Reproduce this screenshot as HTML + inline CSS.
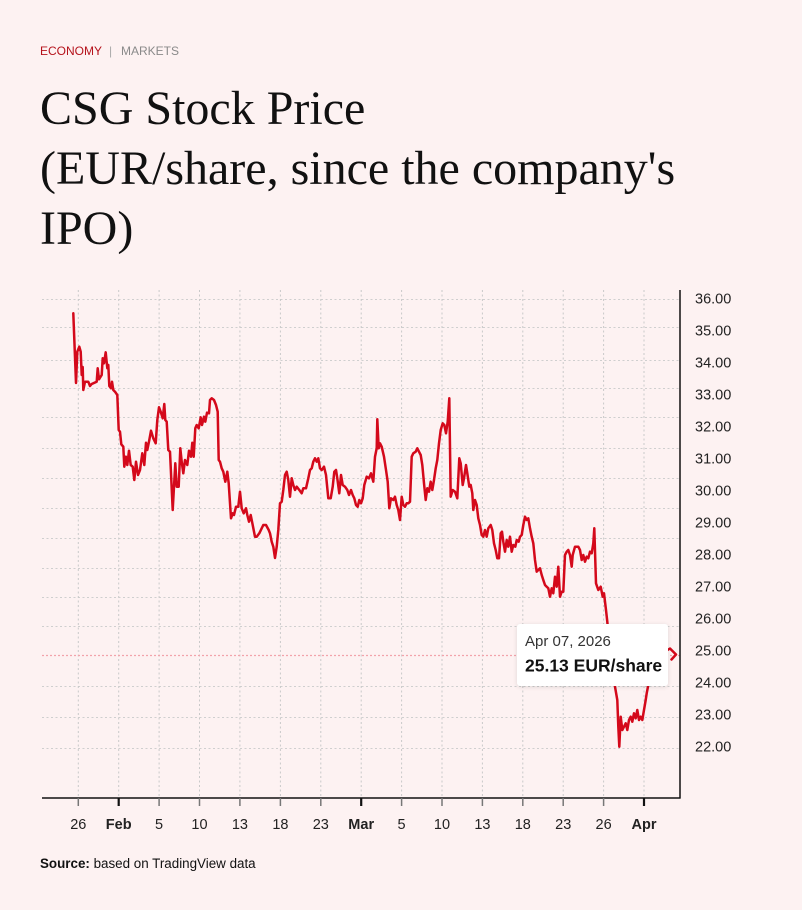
<!DOCTYPE html>
<html>
<head>
<meta charset="utf-8">
<style>
  html, body { margin:0; padding:0; }
  body { width:802px; height:910px; background:#fdf2f2; position:relative; overflow:hidden; font-family:"Liberation Sans", Arial, sans-serif; }
  svg { position:absolute; left:0; top:0; }
  .tip { position:absolute; left:517px; top:624px; width:151px; height:62px; background:#fff; border-radius:3px; box-shadow:0 1px 5px rgba(0,0,0,0.12); }
</style>
</head>
<body>
<svg width="802" height="910" viewBox="0 0 802 910" xmlns="http://www.w3.org/2000/svg">
  <!-- header -->
  <text x="40" y="55" font-family="Liberation Sans, Arial, sans-serif" font-size="12" fill="#b5121b">ECONOMY</text>
  <text x="109" y="55" font-family="Liberation Sans, Arial, sans-serif" font-size="12" fill="#aaa">|</text>
  <text x="121" y="55" font-family="Liberation Sans, Arial, sans-serif" font-size="12" fill="#8a8a8a">MARKETS</text>

  <!-- title -->
  <g font-family="Liberation Serif, 'Times New Roman', serif" font-size="48" fill="#111">
    <text x="40" y="124">CSG Stock Price</text>
    <text x="40" y="184">(EUR/share, since the company's</text>
    <text x="40" y="244">IPO)</text>
  </g>

  <!-- horizontal gridlines -->
  <g stroke="#cfcfcf" stroke-width="1" stroke-dasharray="2,2.5">
    <line x1="42" x2="680" y1="299.5" y2="299.5"/>
    <line x1="42" x2="680" y1="327.5" y2="327.5"/>
    <line x1="42" x2="680" y1="360.5" y2="360.5"/>
    <line x1="42" x2="680" y1="388.5" y2="388.5"/>
    <line x1="42" x2="680" y1="417.5" y2="417.5"/>
    <line x1="42" x2="680" y1="448.5" y2="448.5"/>
    <line x1="42" x2="680" y1="478.5" y2="478.5"/>
    <line x1="42" x2="680" y1="508.5" y2="508.5"/>
    <line x1="42" x2="680" y1="538.5" y2="538.5"/>
    <line x1="42" x2="680" y1="568.5" y2="568.5"/>
    <line x1="42" x2="680" y1="597.5" y2="597.5"/>
    <line x1="42" x2="680" y1="626.5" y2="626.5"/>
    <line x1="42" x2="680" y1="686.5" y2="686.5"/>
    <line x1="42" x2="680" y1="717.5" y2="717.5"/>
    <line x1="42" x2="680" y1="748.5" y2="748.5"/>
  </g>
  <!-- vertical gridlines -->
  <g stroke="#c9c9c9" stroke-width="1" stroke-dasharray="2,2.5">
    <line x1="78.3" x2="78.3" y1="290" y2="798"/>
    <line x1="118.7" x2="118.7" y1="290" y2="798"/>
    <line x1="159.1" x2="159.1" y1="290" y2="798"/>
    <line x1="199.5" x2="199.5" y1="290" y2="798"/>
    <line x1="239.9" x2="239.9" y1="290" y2="798"/>
    <line x1="280.4" x2="280.4" y1="290" y2="798"/>
    <line x1="320.8" x2="320.8" y1="290" y2="798"/>
    <line x1="361.2" x2="361.2" y1="290" y2="798"/>
    <line x1="401.6" x2="401.6" y1="290" y2="798"/>
    <line x1="442.0" x2="442.0" y1="290" y2="798"/>
    <line x1="482.4" x2="482.4" y1="290" y2="798"/>
    <line x1="522.8" x2="522.8" y1="290" y2="798"/>
    <line x1="563.2" x2="563.2" y1="290" y2="798"/>
    <line x1="603.6" x2="603.6" y1="290" y2="798"/>
    <line x1="644.0" x2="644.0" y1="290" y2="798"/>
  </g>

  <!-- crosshair -->
  <line x1="42" x2="680" y1="655.5" y2="655.5" stroke="#f2a3ab" stroke-width="1.2" stroke-dasharray="2,2"/>

  <!-- price line -->
  <polyline fill="none" stroke="#d4091b" stroke-width="2.5" stroke-linejoin="round" stroke-linecap="round" points="
73.3,313.3 76,383 77.3,351.7 79.3,346.7 80.7,351.7 81.7,375 82.7,367 83.3,390 85,381.7 88.3,381.7 90,386 91.7,384 96.7,381.7 97.7,368.3 99,379.3 101.7,375 102.7,358.3 104,363.3 105.7,352.3 107.3,368.3 108.3,365 109.3,386 111,388.3 112,381.7 113.3,390 115,391.7 117.3,395 118.7,430 120,431.7 121.3,444.3 123.3,446.7 124.3,466.7 126,456.7 127.3,465 129,450.7 130.7,465 132.7,466.7 134.3,480 136,461.7 138,475 140,470 142.3,453.3 144.3,465 146,442.7 147.3,450 149.3,440 151,430.7 153.3,438.3 155.7,443.3 157.3,420 159,407.3 160.7,411.7 162.7,418.3 164.3,404 165.3,420 166.7,421.7 168.3,450 170,451.7 172.7,510 175.3,463.3 176.7,486.7 178.7,486.7 180.3,448.3 181.7,461.7 183.3,473.3 185,460 187.3,465 189,450.7 191,456.7 192.3,442.7 193.7,456.7 195.3,428.3 196.7,425 198.7,428.3 200.7,417.3 202,425 204,416.7 205.3,421.7 207,412.7 209,413.3 210,400 211.7,398.3 214,400 216,405 217.7,411.7 218.7,460 220,461.7 221.7,468.3 223.3,471.7 225.3,481.7 227.3,471.7 228.7,483.3 231,518.3 232.7,513.3 234,515 236,506.7 238.3,506.7 240,491.7 241.7,508.3 243.7,513.3 246,508.3 247.3,515 249,521.7 250.7,515 252.7,525 255,536.7 256.7,536.7 259.3,533.3 263.3,525 266,525 268.7,530 270,533.3 271.7,541.7 273.3,546.7 275,558 276.7,546.7 278.3,530 280,503.3 281.7,501.7 283.3,490 285,475 286.7,471.7 288.3,480 290,496.7 291.7,478.3 293.3,485 295,490 296.7,486.7 299.3,490 301.7,493.3 303.3,488.3 306,488.3 308.3,478.3 310,470 311.7,468.3 313.3,461.7 315,458.3 316.7,461.7 318.3,458.3 320,468.3 321.7,470 324,466.7 326,475 328.3,498.3 330.7,498.3 332.7,486.7 334.3,471.7 336,470 337.3,478.3 339.3,493.3 341,475 342.7,485 345,486.7 347.3,490 349,495 351,490 352.7,495 354.3,498.3 356,505 357.7,506.7 359.3,500 361,503.3 362.7,498.3 364.3,485 366.7,476.7 369,478.3 371,473.3 373.3,481.7 375,456.7 376.7,448.3 377.3,419.3 378.7,448.3 380,443.3 381.7,446.7 384,456.7 386,470 387.7,481.7 389.3,508.3 391,498.3 393.3,500 395,496.7 396.7,505 398.3,510 400,520 401.7,496.7 403.3,505 405,506.7 406.7,503.3 408.3,503.3 410,501.7 411.7,456.7 413.3,453.3 415.7,451.7 417.3,448.3 419,451.7 420.7,455 422.3,465 424,483.3 425.7,500 427.3,488.3 429,491.7 430.7,481.7 432.3,490 434,480 435.7,468.3 437.3,460 439,443.3 440.7,430 442.7,423.3 444.3,425 446,433.3 447.7,421.7 449.3,398.3 450.7,496.7 452.7,490 455,491.7 457.3,498.3 459.3,458.3 460.7,463.3 462.7,485 464,478.3 466,465 467.3,473.3 469.3,486.7 470.7,485 472.3,493.3 473.3,510 475,500 476.7,505 478.3,518.3 480,525 481.7,535 483.3,536.7 485,530 486.7,536.7 488.3,528.3 490.7,525 492.3,530 494,543.3 495.7,550 497.3,558.3 499,558.3 500.7,533.3 502,531.7 503.3,541.7 505,551.7 506.7,540 508.3,546.7 510,536.7 511.7,551.7 513.3,545 515.3,546.7 516.7,540 518.7,541.7 520,536.7 521.7,535 523.3,525 525,516.7 526.7,520 528.3,518.3 530,528.3 531.7,536.7 533.3,543.3 535,560 536.7,571.7 538.3,570 540,568.3 541.7,575 543.3,580 545,585 546.7,586.7 548.3,588.3 550,596.7 551.7,588.3 553.3,593.3 555,576.7 556.7,586.7 558.3,566.7 560,596.7 561.7,591.7 563.3,591.7 565,555 566.7,551.7 568.3,550 570,555 571.7,566.7 572.7,555 575,546.7 578.3,546.7 580,550 581.7,560 583.3,555 585,561.7 586.7,556.7 588.3,558.3 590,551.7 591.7,553.3 593.3,543.3 594.3,528.3 596,583.3 598.3,590 600.7,586.7 602.7,596.7 604,593.3 606,610 607.3,621.7 609,640 611,660 613,675 615,686.7 617.3,700 618.3,726.7 619.3,746.7 620.7,716.7 622.3,730 624,726.7 625.7,723.3 627.3,730 629,720 630.7,716.7 632.3,721.7 634,713.3 635.7,718.3 637.3,710 639,720 640.7,716.7 642.3,720 644,710 645.7,700 646.7,693.3 648.3,685 652,672 656,662 662,655 666,651 670,648.5 676,654.5 671.5,659.5"/>

  <!-- axes -->
  <line x1="42" x2="680.5" y1="798" y2="798" stroke="#111" stroke-width="1.5"/>
  <line x1="680" x2="680" y1="290" y2="798.5" stroke="#111" stroke-width="1.5"/>

  <!-- ticks -->
  <g stroke="#777" stroke-width="1.5">
    <line x1="78.3" x2="78.3" y1="798" y2="806"/>
    <line x1="159.1" x2="159.1" y1="798" y2="806"/>
    <line x1="199.5" x2="199.5" y1="798" y2="806"/>
    <line x1="239.9" x2="239.9" y1="798" y2="806"/>
    <line x1="280.4" x2="280.4" y1="798" y2="806"/>
    <line x1="320.8" x2="320.8" y1="798" y2="806"/>
    <line x1="401.6" x2="401.6" y1="798" y2="806"/>
    <line x1="442.0" x2="442.0" y1="798" y2="806"/>
    <line x1="482.4" x2="482.4" y1="798" y2="806"/>
    <line x1="522.8" x2="522.8" y1="798" y2="806"/>
    <line x1="563.2" x2="563.2" y1="798" y2="806"/>
    <line x1="603.6" x2="603.6" y1="798" y2="806"/>
  </g>
  <g stroke="#111" stroke-width="2.2">
    <line x1="118.7" x2="118.7" y1="798" y2="806"/>
    <line x1="361.2" x2="361.2" y1="798" y2="806"/>
    <line x1="644.0" x2="644.0" y1="798" y2="806"/>
  </g>

  <!-- x labels -->
  <g font-family="Liberation Sans, Arial, sans-serif" font-size="14.5" fill="#222" text-anchor="middle">
    <text x="78.3" y="829">26</text>
    <text x="118.7" y="829" font-weight="bold">Feb</text>
    <text x="159.1" y="829">5</text>
    <text x="199.5" y="829">10</text>
    <text x="239.9" y="829">13</text>
    <text x="280.4" y="829">18</text>
    <text x="320.8" y="829">23</text>
    <text x="361.2" y="829" font-weight="bold">Mar</text>
    <text x="401.6" y="829">5</text>
    <text x="442.0" y="829">10</text>
    <text x="482.4" y="829">13</text>
    <text x="522.8" y="829">18</text>
    <text x="563.2" y="829">23</text>
    <text x="603.6" y="829">26</text>
    <text x="644.0" y="829" font-weight="bold">Apr</text>
  </g>

  <!-- y labels -->
  <g font-family="Liberation Sans, Arial, sans-serif" font-size="14.5" fill="#222">
    <text x="695" y="303.3">36.00</text>
    <text x="695" y="335.3">35.00</text>
    <text x="695" y="367.3">34.00</text>
    <text x="695" y="399.3">33.00</text>
    <text x="695" y="431.3">32.00</text>
    <text x="695" y="463.3">31.00</text>
    <text x="695" y="495.3">30.00</text>
    <text x="695" y="527.3">29.00</text>
    <text x="695" y="559.3">28.00</text>
    <text x="695" y="591.3">27.00</text>
    <text x="695" y="623.3">26.00</text>
    <text x="695" y="655.3">25.00</text>
    <text x="695" y="687.3">24.00</text>
    <text x="695" y="719.3">23.00</text>
    <text x="695" y="751.3">22.00</text>
  </g>

  <!-- source -->
  <text x="40" y="868" font-family="Liberation Sans, Arial, sans-serif" font-size="13.4" fill="#111"><tspan font-weight="bold">Source:</tspan> based on TradingView data</text>
</svg>

<div class="tip"></div>
<svg width="802" height="910" viewBox="0 0 802 910" xmlns="http://www.w3.org/2000/svg">
  <text x="525" y="646" font-family="Liberation Sans, Arial, sans-serif" font-size="15" fill="#333">Apr 07, 2026</text>
  <text x="525" y="671.5" font-family="Liberation Sans, Arial, sans-serif" font-size="17.5" font-weight="bold" fill="#111">25.13 EUR/share</text>
</svg>
</body>
</html>
